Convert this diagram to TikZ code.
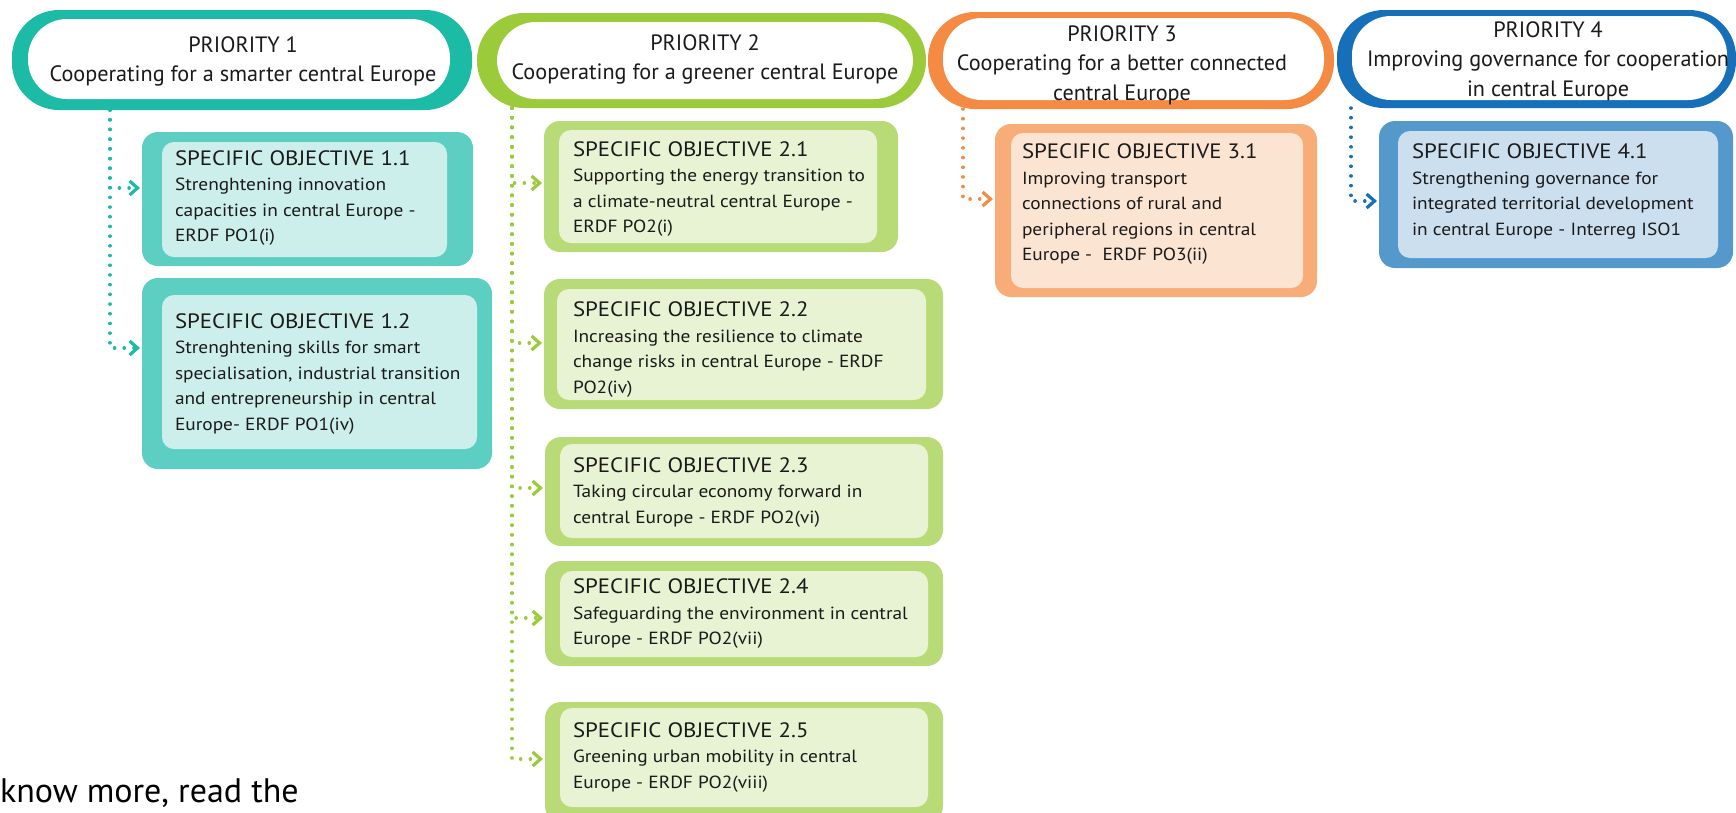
\documentclass[tikz,border=0pt]{standalone}
\usepackage{fontspec}
\setmainfont{PT Sans}
\newfontfamily\sofont{PT Sans}[FakeStretch=1.1]
\usetikzlibrary{arrows.meta}
\definecolor{txt}{HTML}{1A1A1A}
\definecolor{tealP}{HTML}{1BBBA6}
\definecolor{tealO}{HTML}{5CCFC2}
\definecolor{tealI}{HTML}{CDEFEB}
\definecolor{greenP}{HTML}{9BCB3B}
\definecolor{greenO}{HTML}{B9DB77}
\definecolor{greenI}{HTML}{E7F3D3}
\definecolor{orangeP}{HTML}{F58A42}
\definecolor{orangeO}{HTML}{F8AC78}
\definecolor{orangeI}{HTML}{FCE4D3}
\definecolor{blueP}{HTML}{1670B9}
\definecolor{blueO}{HTML}{5599CC}
\definecolor{blueI}{HTML}{CCDFEF}
\newcommand\sotitlefont{\fontsize{20.8}{25.5}\selectfont}
\begin{document}
\begin{tikzpicture}[x=1pt,y=-1pt,
    every node/.style={inner sep=0pt, outer sep=0pt, text=txt},
    pill/.style={rectangle, fill=#1, rounded corners=47},
    pillin/.style={rectangle, fill=white, rounded corners=39},
    ptext/.style={align=center, font=\fontsize{22.2}{29.5}\selectfont},
    sobox/.style={rectangle, fill=#1, rounded corners=16},
    soin/.style={rectangle, fill=#1, rounded corners=12},
    sotext/.style={anchor=west, align=left, font=\sofont\fontsize{17.6}{25.5}\selectfont},
    link/.style={draw=#1, line width=3.5, line cap=round, dash pattern=on 0.1pt off 9.6pt,
        -{Straight Barb[length=8pt,width=14pt,line width=3.2pt]}, shorten >=2}]
    \useasboundingbox (0,0) rectangle (1736,812);
    % Priorities
    \node[pill=tealP, minimum width=460, minimum height=100] (p1) at (242,60) {};
    \node[pillin, minimum width=422, minimum height=80] (p1i) at (239,59) {};
    \node[ptext] (p1l) at (243,61.5) {PRIORITY 1\\Cooperating for a smarter central Europe};
    \node[pill=greenP, minimum width=449, minimum height=95] (p2) at (701.5,60.5) {};
    \node[pillin, minimum width=416, minimum height=77] (p2i) at (705,60.5) {};
    \node[ptext] (p2l) at (705,59.5) {PRIORITY 2\\Cooperating for a greener central Europe};
    \node[pill=orangeP, minimum width=406, minimum height=97] (p3) at (1131,60.5) {};
    \node[pillin, minimum width=381, minimum height=82] (p3i) at (1133.5,59) {};
    \node[ptext] (p3l) at (1122,65) {PRIORITY 3\\Cooperating for a better connected\\central Europe};
    \node[pill=blueP, minimum width=399, minimum height=98] (p4) at (1536.5,59) {};
    \node[pillin, minimum width=375, minimum height=84] (p4i) at (1539.5,58) {};
    \node[ptext] (p4l) at (1548,61) {PRIORITY 4\\Improving governance for cooperation\\in central Europe};
    % Specific objectives 1
    \node[sobox=tealO, minimum width=331, minimum height=134] (o11) at (307.5,199) {};
    \node[soin=tealI, minimum width=285, minimum height=115] (o11i) at (304.5,199.5) {};
    \node[sotext] (o11l) at (175,198) {{\sotitlefont SPECIFIC OBJECTIVE 1.1}\\Strenghtening innovation\\capacities in central Europe -\\ERDF PO1(i)};
    \node[sobox=tealO, minimum width=350, minimum height=191] (o12) at (317,373.5) {};
    \node[soin=tealI, minimum width=315, minimum height=154] (o12i) at (319.5,372) {};
    \node[sotext] (o12l) at (175,374) {{\sotitlefont SPECIFIC OBJECTIVE 1.2}\\Strenghtening skills for smart\\specialisation, industrial transition\\and entrepreneurship in central\\Europe- ERDF PO1(iv)};
    % Specific objectives 2
    \node[sobox=greenO, minimum width=354, minimum height=131] (o21) at (721,186.5) {};
    \node[soin=greenI, minimum width=318, minimum height=113] (o21i) at (718,186.5) {};
    \node[sotext] (o21l) at (573,189) {{\sotitlefont SPECIFIC OBJECTIVE 2.1}\\Supporting the energy transition to\\a climate-neutral central Europe -\\ERDF PO2(i)};
    \node[sobox=greenO, minimum width=399, minimum height=130] (o22) at (743.5,344) {};
    \node[soin=greenI, minimum width=369, minimum height=111] (o22i) at (741.5,344.5) {};
    \node[sotext] (o22l) at (573,349.5) {{\sotitlefont SPECIFIC OBJECTIVE 2.2}\\Increasing the resilience to climate\\change risks in central Europe - ERDF\\PO2(iv)};
    \node[sobox=greenO, minimum width=398, minimum height=109] (o23) at (744,491.5) {};
    \node[soin=greenI, minimum width=368, minimum height=94] (o23i) at (744,491) {};
    \node[sotext] (o23l) at (573,492.5) {{\sotitlefont SPECIFIC OBJECTIVE 2.3}\\Taking circular economy forward in\\central Europe - ERDF PO2(vi)};
    \node[sobox=greenO, minimum width=398, minimum height=105] (o24) at (744,613.5) {};
    \node[soin=greenI, minimum width=368, minimum height=86] (o24i) at (744,614) {};
    \node[sotext] (o24l) at (573,614) {{\sotitlefont SPECIFIC OBJECTIVE 2.4}\\Safeguarding the environment in central\\Europe - ERDF PO2(vii)};
    \node[sobox=greenO, minimum width=398, minimum height=120] (o25) at (744,762) {};
    \node[soin=greenI, minimum width=368, minimum height=99] (o25i) at (744,757.5) {};
    \node[sotext] (o25l) at (573,757.5) {{\sotitlefont SPECIFIC OBJECTIVE 2.5}\\Greening urban mobility in central\\Europe - ERDF PO2(viii)};
    % Specific objectives 3 and 4
    \node[sobox=orangeO, minimum width=322, minimum height=173] (o31) at (1156,210.5) {};
    \node[soin=orangeI, minimum width=292, minimum height=155] (o31i) at (1157,210.5) {};
    \node[sotext] (o31l) at (1022,204.5) {{\sotitlefont SPECIFIC OBJECTIVE 3.1}\\Improving transport\\connections of rural and\\peripheral regions in central\\Europe -~~ERDF PO3(ii)};
    \node[sobox=blueO, minimum width=354, minimum height=147] (o41) at (1556,194.5) {};
    \node[soin=blueI, minimum width=320, minimum height=127] (o41i) at (1558,194.5) {};
    \node[sotext] (o41l) at (1412,191.5) {{\sotitlefont SPECIFIC OBJECTIVE 4.1}\\Strengthening governance for\\integrated territorial development\\in central Europe - Interreg ISO1};
    % Links
    \draw[link=tealP] ([xshift=98]p1.south west) |- ([yshift=11]o11.west);
    \draw[link=tealP] ([xshift=98]p1.south west) |- ([yshift=25.5]o12.west);
    \draw[link=greenP] ([xshift=35]p2.south west) |- ([yshift=3.5]o21.west);
    \draw[link=greenP] ([xshift=35]p2.south west) |- ([yshift=1]o22.west);
    \draw[link=greenP] ([xshift=35]p2.south west) |- ([yshift=3.5]o23.west);
    \draw[link=greenP] ([xshift=35]p2.south west) |- ([yshift=-4.5]o24.west);
    \draw[link=greenP] ([xshift=35]p2.south west) |- ([yshift=3]o25.west);
    \draw[link=orangeP] ([xshift=35]p3.south west) |- ([yshift=11.5]o31.west);
    \draw[link=blueP] ([xshift=14]p4.south west) |- ([yshift=-6.5]o41.west);
    % Footer
    \node[anchor=base west, font=\fontsize{34}{40}\selectfont, text=black] (more) at (0,802) {know more, read the};
\end{tikzpicture}
\end{document}
